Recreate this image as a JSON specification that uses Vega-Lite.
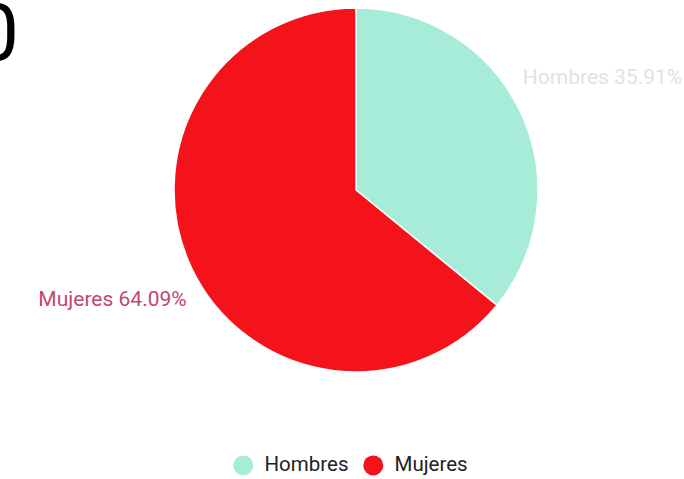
{
  "$schema": "https://vega.github.io/schema/vega-lite/v6.json",
  "width": 656,
  "height": 380,
  "autosize": {"type": "none"},
  "padding": {"left": 28, "top": 0, "right": 0, "bottom": 99},
  "background": "white",
  "title": {
    "text": "0",
    "font": "Roboto",
    "fontSize": 80,
    "fontWeight": "normal",
    "color": "#000000",
    "anchor": "start",
    "frame": "group",
    "baseline": "top",
    "offset": 0,
    "dx": -54,
    "dy": 77
  },
  "data": {
    "values": [
      {"sexo": "Hombres", "pct": 35.91},
      {"sexo": "Mujeres", "pct": 64.09}
    ]
  },
  "transform": [
    {"calculate": "datum.sexo + ' ' + format(datum.pct, '.2f') + '%'", "as": "etiqueta"}
  ],
  "encoding": {
    "theta": {"field": "pct", "type": "quantitative", "stack": true},
    "order": {"field": "sexo", "sort": "ascending"}
  },
  "layer": [
    {
      "mark": {"type": "arc", "outerRadius": 182, "stroke": "white", "strokeWidth": 1.5},
      "encoding": {
        "color": {
          "field": "sexo",
          "type": "nominal",
          "scale": {"domain": ["Hombres", "Mujeres"], "range": ["#a6ecd9", "#f5131b"]},
          "legend": {
            "title": null,
            "orient": "none",
            "direction": "horizontal",
            "legendX": 205,
            "legendY": 455,
            "symbolType": "circle",
            "symbolSize": 400,
            "symbolStrokeWidth": 0,
            "labelFont": "Roboto",
            "labelFontSize": 20.5,
            "labelColor": "#222222",
            "labelOffset": 11,
            "columnPadding": 14,
            "padding": 0
          }
        }
      }
    },
    {
      "mark": {"type": "text", "radius": 261, "align": "left", "baseline": "middle", "dx": -69, "font": "Roboto", "fontSize": 21, "color": "#e2e2e2"},
      "encoding": {
        "text": {"condition": {"test": "datum.sexo === 'Hombres'", "field": "etiqueta"}, "value": ""}
      }
    },
    {
      "mark": {"type": "text", "radius": 256, "align": "right", "baseline": "middle", "dx": 62, "font": "Roboto", "fontSize": 21, "color": "#c4466a"},
      "encoding": {
        "text": {"condition": {"test": "datum.sexo === 'Mujeres'", "field": "etiqueta"}, "value": ""}
      }
    }
  ]
}
